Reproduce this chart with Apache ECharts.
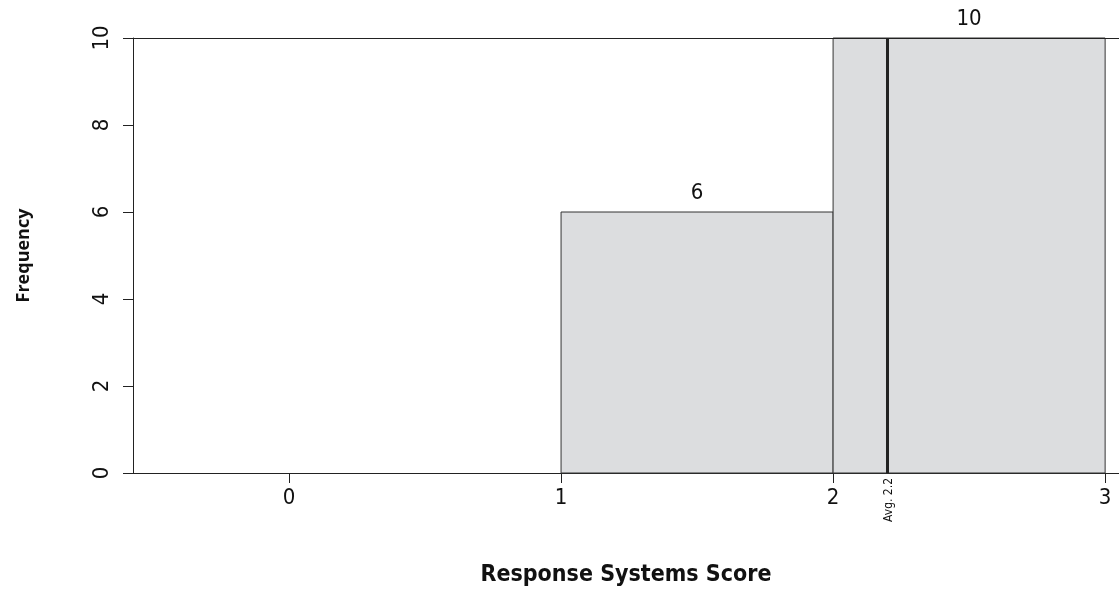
<!DOCTYPE html>
<html>
<head>
<meta charset="utf-8">
<script src="https://cdn.jsdelivr.net/npm/echarts@6/dist/echarts.min.js"></script>
<style>
html,body{margin:0;padding:0;background:#fff;}
#chart{width:1119px;height:592px;}
</style>
</head>
<body>
<div id="chart"></div>
<script>
// Data
const binStart = [1, 2];
const binEnd = [2, 3];
const counts = [6, 10];
const avgValue = 2.2;
const avgLabel = 'Avg. 2.2';
const xTicks = [0, 1, 2, 3];
const yTicks = [0, 2, 4, 6, 8, 10];
const xTitle = 'Response Systems Score';
const yTitle = 'Frequency';

const NARROW = '"Liberation Sans Narrow", "DejaVu Sans Condensed", sans-serif';

const histData = binStart.map((s, i) => [s, binEnd[i], counts[i]]);

const chart = echarts.init(document.getElementById('chart'), null, {renderer: 'canvas'});
chart.setOption({
  animation: false,
  backgroundColor: '#fff',
  grid: {left: 133, right: 0, top: 38, bottom: 116, containLabel: false},
  xAxis: {
    type: 'value',
    min: -0.5735,
    max: 3.051,
    splitLine: {show: false},
    axisLine: {show: true, onZero: false, lineStyle: {color: '#222', width: 1}},
    axisTick: {show: true, length: 10, lineStyle: {color: '#222'}, customValues: xTicks},
    axisLabel: {show: true, customValues: xTicks, fontFamily: NARROW, fontSize: 22, color: '#111', margin: 14},
    name: xTitle,
    nameLocation: 'middle',
    nameGap: 91,
    nameTextStyle: {fontFamily: NARROW, fontWeight: 'bold', fontSize: 23, color: '#111'}
  },
  yAxis: {
    type: 'value',
    min: 0,
    max: 10,
    interval: 2,
    splitLine: {show: false},
    axisLine: {show: true, onZero: false, lineStyle: {color: '#222', width: 1}},
    axisTick: {show: true, length: 10, lineStyle: {color: '#222'}},
    axisLabel: {show: true, rotate: 90, fontFamily: NARROW, fontSize: 22, color: '#111', margin: 20},
    name: yTitle,
    nameLocation: 'middle',
    nameGap: 100,
    nameRotate: 90,
    nameTextStyle: {fontFamily: '"Open Sans", sans-serif', fontWeight: 'bold', fontSize: 18, color: '#111'}
  },
  series: [
    {
      type: 'custom',
      data: histData,
      encode: {x: [0, 1], y: 2},
      clip: false,
      renderItem: function (params, api) {
        const p0 = api.coord([api.value(0), 0]);
        const p1 = api.coord([api.value(1), api.value(2)]);
        return {
          type: 'group',
          children: [
            {
              type: 'rect',
              shape: {x: p0[0], y: p1[1], width: p1[0] - p0[0], height: p0[1] - p1[1]},
              style: {fill: '#dcdddf', stroke: '#333', lineWidth: 1}
            },
            {
              type: 'text',
              x: (p0[0] + p1[0]) / 2,
              y: p1[1] - 8,
              style: {text: String(api.value(2)), fontFamily: NARROW, fontSize: 22, fill: '#111', align: 'center', verticalAlign: 'bottom'}
            }
          ]
        };
      },
      z: 2
    },
    {
      type: 'custom',
      data: [[avgValue]],
      clip: false,
      renderItem: function (params, api) {
        const b = api.coord([api.value(0), 0]);
        const t = api.coord([api.value(0), 10]);
        return {
          type: 'group',
          children: [
            {
              type: 'line',
              shape: {x1: b[0], y1: b[1], x2: t[0], y2: t[1]},
              style: {stroke: '#222', lineWidth: 3}
            },
            {
              type: 'text',
              x: b[0] + 1,
              y: b[1] + 5,
              rotation: Math.PI / 2,
              style: {text: avgLabel, fontFamily: NARROW, fontSize: 12, fill: '#111', align: 'right', verticalAlign: 'middle'}
            }
          ]
        };
      },
      z: 3
    },
    {
      type: 'line',
      data: [],
      markLine: {
        silent: true,
        symbol: 'none',
        label: {show: false},
        lineStyle: {color: '#222', type: 'solid', width: 1},
        data: [{yAxis: yTicks[yTicks.length - 1]}]
      },
      z: 4
    }
  ]
});
</script>
</body>
</html>
